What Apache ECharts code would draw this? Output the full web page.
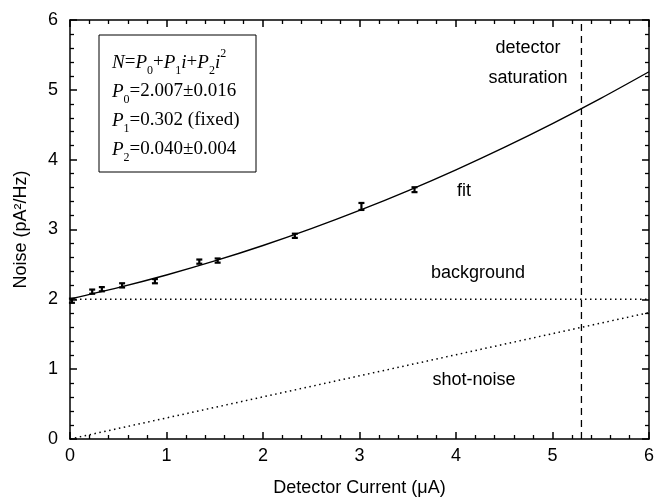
<!DOCTYPE html>
<html>
<head>
<meta charset="utf-8">
<script src="https://cdn.jsdelivr.net/npm/echarts@6/dist/echarts.min.js"></script>
<style>
  html, body { margin: 0; padding: 0; background: #fff; }
  #main { width: 657px; height: 504px; }
</style>
</head>
<body>
<div id="main"></div>
<script>
// measured points (detector current, noise, error)
var pointX = [0.02, 0.23, 0.33, 0.54, 0.88, 1.34, 1.53, 2.33, 3.02, 3.57];
var pointY = [1.98, 2.11, 2.145, 2.20, 2.26, 2.54, 2.555, 2.91, 3.33, 3.57];
var pointErr = [0.03, 0.03, 0.03, 0.03, 0.03, 0.03, 0.03, 0.03, 0.05, 0.035];

// fit curve
var fitX = [0, 0.5, 1, 1.5, 2, 2.5, 3, 3.5, 4, 4.5, 5, 5.5, 6];
var fitY = [2.007, 2.168, 2.349, 2.55, 2.771, 3.012, 3.273, 3.554, 3.855, 4.176, 4.517, 4.878, 5.259];

// background and shot-noise levels
var bgX = [0, 6];
var bgY = [2.0, 2.0];
var shotX = [0, 6];
var shotY = [0, 1.81];

// detector saturation
var satX = [5.3, 5.3];
var satY = [0, 6];

var xTicks = [0, 1, 2, 3, 4, 5, 6];
var yTicks = [0, 1, 2, 3, 4, 5, 6];

var xName = 'Detector Current (\u03bcA)';
var yName = 'Noise (pA\u00b2/Hz)';

function pairs(xs, ys) {
  var out = [];
  for (var i = 0; i < xs.length; i++) out.push([xs[i], ys[i]]);
  return out;
}

var errData = [];
for (var i = 0; i < pointX.length; i++) {
  errData.push([pointX[i], pointY[i] - pointErr[i], pointY[i] + pointErr[i]]);
}

var sans = 'Liberation Sans, Arial, sans-serif';
var serif = 'Liberation Serif, Times New Roman, serif';

var legendRich = {
  it: { fontFamily: serif, fontStyle: 'italic', fontSize: 19, color: '#000', lineHeight: 29 },
  rm: { fontFamily: serif, fontSize: 19, color: '#000', lineHeight: 29 },
  sub: { fontFamily: serif, fontSize: 12, color: '#000', lineHeight: 5, verticalAlign: 'bottom' },
  sup: { fontFamily: serif, fontSize: 12, color: '#000', lineHeight: 26, verticalAlign: 'top' }
};
var legendText = [
  '{it|N}{rm|=}{it|P}{sub|0}{rm|+}{it|P}{sub|1}{it|i}{rm|+}{it|P}{sub|2}{it|i}{sup|2}',
  '{it|P}{sub|0}{rm|=2.007\u00b10.016}',
  '{it|P}{sub|1}{rm|=0.302 (fixed)}',
  '{it|P}{sub|2}{rm|=0.040\u00b10.004}'
].join('\n');

function label(text, x, y, rot) {
  return {
    type: 'text', x: x, y: y, rotation: rot || 0,
    style: { text: text, fill: '#000', font: '18px ' + sans, textAlign: 'center', textVerticalAlign: 'middle' }
  };
}

// f: which optional parts to use (used to fall back if ticks go missing)
function buildOption(f) {
  function axis(pos, showLabel, ticks) {
    var a = {
      type: 'value',
      position: pos,
      min: ticks[0],
      max: ticks[ticks.length - 1],
      interval: 1,
      axisLine: { show: true, onZero: false, lineStyle: { color: '#000', width: 1.5 } },
      axisTick: { show: true, inside: true, length: 7, lineStyle: { color: '#000', width: 1.5 } },
      minorTick: { show: true, splitNumber: 5, length: 4, lineStyle: { color: '#000', width: 1.3 } },
      splitLine: { show: false },
      axisLabel: { show: showLabel, color: '#000', fontSize: 18 }
    };
    if (f.fonts) a.axisLabel.fontFamily = sans;
    return a;
  }
  var xb = axis('bottom', true, xTicks);
  var yl = axis('left', true, yTicks);
  if (f.margins) { xb.axisLabel.margin = 8; yl.axisLabel.margin = 12; }
  if (f.names) {
    xb.name = xName; xb.nameLocation = 'middle'; xb.nameGap = 40;
    xb.nameTextStyle = { color: '#000', fontSize: 18 };
    yl.name = yName; yl.nameLocation = 'middle'; yl.nameGap = 40;
    yl.nameTextStyle = { color: '#000', fontSize: 18 };
    if (f.fonts) { xb.nameTextStyle.fontFamily = sans; yl.nameTextStyle.fontFamily = sans; }
  }

  var series = [{
    name: 'fit', type: 'line', smooth: 0.3, symbol: 'none',
    data: pairs(fitX, fitY),
    lineStyle: { color: '#000', width: 1.4 }
  }];
  if (f.lines) {
    series.push({ name: 'background', type: 'line', symbol: 'none', data: pairs(bgX, bgY),
      lineStyle: { color: '#000', width: 1.5, type: [1.5, 3.5] } });
    series.push({ name: 'shot-noise', type: 'line', symbol: 'none', data: pairs(shotX, shotY),
      lineStyle: { color: '#000', width: 1.5, type: [1.5, 3.5] } });
    series.push({ name: 'saturation', type: 'line', symbol: 'none', data: pairs(satX, satY),
      lineStyle: { color: '#000', width: 1.3, type: [7, 5] } });
  }
  if (f.custom) {
    series.push({
      name: 'data', type: 'custom', data: errData, z: 5,
      renderItem: function (params, api) {
        var lo = api.coord([api.value(0), api.value(1)]);
        var hi = api.coord([api.value(0), api.value(2)]);
        var w = 3;
        return {
          type: 'group',
          children: [
            { type: 'line', shape: { x1: lo[0], y1: lo[1], x2: hi[0], y2: hi[1] }, style: { stroke: '#000', lineWidth: 2.2 } },
            { type: 'line', shape: { x1: lo[0] - w, y1: lo[1], x2: lo[0] + w, y2: lo[1] }, style: { stroke: '#000', lineWidth: 2.2 } },
            { type: 'line', shape: { x1: hi[0] - w, y1: hi[1], x2: hi[0] + w, y2: hi[1] }, style: { stroke: '#000', lineWidth: 2.2 } }
          ]
        };
      }
    });
  }

  var opt = {
    animation: false,
    grid: { left: 70, right: 7, top: 20, bottom: 65, containLabel: false },
    xAxis: [xb, axis('top', false, xTicks)],
    yAxis: [yl, axis('right', false, yTicks)],
    series: series
  };
  if (f.bg) opt.backgroundColor = '#fff';
  if (f.graphic) {
    var g = [
      { type: 'rect', shape: { x: 99, y: 35, width: 157, height: 137 },
        style: { fill: '#fff', stroke: '#000', lineWidth: 1 } },
      { type: 'text', x: 112, y: 48,
        style: { text: legendText, rich: legendRich, fill: '#000', textVerticalAlign: 'top', textAlign: 'left' } },
      label('detector', 528, 48),
      label('saturation', 528, 78),
      label('fit', 464, 191),
      label('background', 478, 273),
      label('shot-noise', 474, 380)
    ];
    if (!f.names) {
      g.push(label(xName, 360, 491));
      g.push(label(yName, 20, 230, Math.PI / 2));
    }
    opt.graphic = g;
  }
  return opt;
}

function countTicks(opt) {
  var div = document.createElement('div');
  div.style.cssText = 'position:absolute;left:-3000px;top:0;width:657px;height:504px;';
  document.body.appendChild(div);
  var c = echarts.init(div);
  c.setOption(opt);
  var n = 0;
  c.getZr().storage.getDisplayList(true).forEach(function (el) {
    if (el.invisible) return;
    if (el.anid && String(el.anid).indexOf('ticks') >= 0) { n++; return; }
    if (el.type === 'line' && el.shape && el.silent) {
      var len = Math.abs(el.shape.x2 - el.shape.x1) + Math.abs(el.shape.y2 - el.shape.y1);
      if (Math.abs(len - 7) < 0.3 || Math.abs(len - 4) < 0.3) n++;
    }
  });
  c.dispose();
  document.body.removeChild(div);
  return n;
}

var full = { names: true, fonts: true, graphic: true, custom: true, bg: true, margins: true, lines: true };
var keys = ['names', 'fonts', 'margins', 'bg', 'custom', 'lines', 'graphic'];
var tries = [full];
keys.forEach(function (k) {
  var f = {};
  for (var p in full) f[p] = full[p];
  f[k] = false;
  tries.push(f);
});
tries.push({ names: false, fonts: false, graphic: true, custom: true, bg: false, margins: false, lines: true });

var chosen = full;
for (var t = 0; t < tries.length; t++) {
  var n = 0;
  try { n = countTicks(buildOption(tries[t])); } catch (e) { n = 0; }
  if (n > 20) { chosen = tries[t]; break; }
}

var chart = echarts.init(document.getElementById('main'));
chart.setOption(buildOption(chosen));
</script>
</body>
</html>
